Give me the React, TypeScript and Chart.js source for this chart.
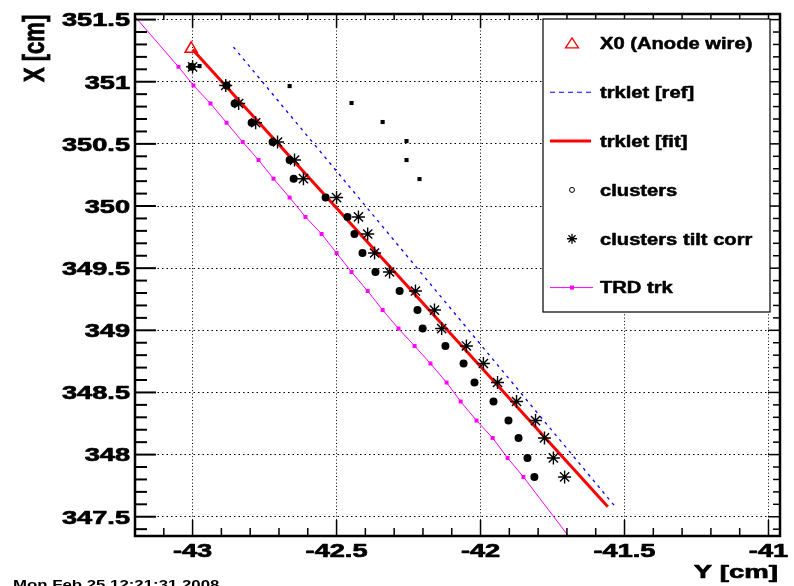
import React, { useEffect, useRef } from 'react';
import { Chart, registerables } from 'chart.js';

Chart.register(...registerables);

// Axis ticks (horizontal axis = Y [cm], vertical axis = X [cm])
const xTicks = [-43, -42.5, -42, -41.5, -41];
const xTickLabels = ['-43', '-42.5', '-42', '-41.5', '-41'];
const yTicks = [347.5, 348, 348.5, 349, 349.5, 350, 350.5, 351, 351.5];
const yTickLabels = ['347.5', '348', '348.5', '349', '349.5', '350', '350.5', '351', '351.5'];
const xRange = [-43.2, -40.96];
const yRange = [347.345, 351.545];
const minorStep = 0.1;

// Radial positions (X) of the time bins
const rowX = [351.12, 350.97, 350.825, 350.67, 350.515, 350.37, 350.22, 350.068, 349.912, 349.775,
  349.622, 349.469, 349.316, 349.163, 349.014, 348.874, 348.733, 348.58, 348.427, 348.274,
  348.134, 347.973, 347.82];

// clusters (Y)
const clusterY = [-43.003, -42.882, -42.854, -42.795, -42.722, -42.663, -42.649, -42.538, -42.462, -42.438,
  -42.41, -42.365, -42.281, -42.219, -42.201, -42.122, -42.059, -42.021, -41.955, -41.903,
  -41.868, -41.837, -41.813];

// clusters tilt corr (Y)
const tiltY = [-43.0, -42.885, -42.84, -42.781, -42.705, -42.646, -42.615, -42.5, -42.424, -42.392,
  -42.368, -42.316, -42.226, -42.16, -42.135, -42.049, -41.99, -41.941, -41.875, -41.809,
  -41.778, -41.747, -41.708];

// TRD trk markers (Y) and line extension ends
const trdY = [-43.049, -42.997, -42.938, -42.882, -42.826, -42.771, -42.719, -42.663, -42.608, -42.552,
  -42.5, -42.448, -42.392, -42.34, -42.285, -42.229, -42.174, -42.118, -42.069, -42.014,
  -41.958, -41.906, -41.851];
const trdEndY = [-43.21, -41.68];
const trdEndX = [351.55, 347.3];

// small squares (unlabelled)
const squareY = [-42.976, -42.663, -42.448, -42.34, -42.257, -42.257, -42.212];
const squareX = [351.126, 350.965, 350.829, 350.676, 350.523, 350.37, 350.217];

// X0 anode wire
const anodeY = [-43.005];
const anodeX = [351.265];

// tracklet reference and fit
const refY = [-42.858, -41.531];
const refX = [351.279, 347.578];
const fitY = [-43.0, -41.558];
const fitX = [351.26, 347.58];

const legendLabels = ['X0 (Anode wire)', 'trklet [ref]', 'trklet [fit]', 'clusters', 'clusters tilt corr', 'TRD trk'];
const dateText = 'Mon Feb 25 12:21:31 2008';

const FONT = '"Liberation Sans", Arial, Helvetica, sans-serif';

function sText(ctx: CanvasRenderingContext2D, text: string, x: number, y: number, size: number, sx: number, align: CanvasTextAlign, heavy = 0) {
  ctx.save();
  ctx.translate(x, y);
  ctx.scale(sx, 1);
  ctx.font = `bold ${size}px ${FONT}`;
  ctx.textAlign = align;
  ctx.textBaseline = 'alphabetic';
  ctx.fillStyle = '#000';
  ctx.fillText(text, 0, 0);
  if (heavy > 0) {
    ctx.strokeStyle = '#000';
    ctx.lineWidth = heavy;
    ctx.lineJoin = 'round';
    ctx.strokeText(text, 0, 0);
  }
  ctx.restore();
}

const rootPlugin = {
  id: 'rootFrame',
  afterDraw(chart: any) {
    const { ctx, chartArea: a } = chart;
    const xs = chart.scales.x;
    const ys = chart.scales.y;
    ctx.save();
    ctx.strokeStyle = '#000';
    ctx.fillStyle = '#000';

    // ticks
    const isMajor = (v: number) => Math.abs(v * 2 - Math.round(v * 2)) < 1e-6;
    ctx.lineWidth = 1.5;
    for (let k = Math.ceil(xs.min / minorStep - 1e-9); k * minorStep <= xs.max + 1e-9; k++) {
      const v = k * minorStep;
      const px = xs.getPixelForValue(v);
      const maj = isMajor(v);
      ctx.beginPath();
      ctx.moveTo(px, a.bottom); ctx.lineTo(px, a.bottom - (maj ? 16 : 8));
      ctx.moveTo(px, a.top); ctx.lineTo(px, a.top + (maj ? 14 : 6));
      ctx.stroke();
    }
    for (let k = Math.ceil(ys.min / minorStep - 1e-9); k * minorStep <= ys.max + 1e-9; k++) {
      const v = k * minorStep;
      const py = ys.getPixelForValue(v);
      const maj = isMajor(v);
      ctx.lineWidth = 2;
      ctx.beginPath();
      ctx.moveTo(a.left, py); ctx.lineTo(a.left + (maj ? 21 : 12), py);
      ctx.stroke();
      ctx.lineWidth = 1.5;
      ctx.beginPath();
      ctx.moveTo(a.right, py); ctx.lineTo(a.right - (maj ? 12 : 7), py);
      ctx.stroke();
    }

    // frame
    ctx.lineWidth = 2.5;
    ctx.strokeRect(a.left, a.top, a.right - a.left, a.bottom - a.top);

    // tick labels
    xTicks.forEach((v, i) => {
      sText(ctx, xTickLabels[i], xs.getPixelForValue(v), 557, 19, 1.43, 'center', 0.7);
    });
    yTicks.forEach((v, i) => {
      sText(ctx, yTickLabels[i], 130, ys.getPixelForValue(v) + 6.8, 19, 1.43, 'right', 0.7);
    });

    // axis titles
    sText(ctx, 'Y [cm]', 778, 578, 19, 1.45, 'right', 0.7);
    ctx.save();
    ctx.translate(44, 82);
    ctx.rotate(-Math.PI / 2);
    ctx.scale(1, 1.38);
    ctx.font = `bold 22px ${FONT}`;
    ctx.textAlign = 'left';
    ctx.textBaseline = 'alphabetic';
    ctx.fillStyle = '#000';
    ctx.fillText('X [cm]', 0, 0);
    ctx.strokeStyle = '#000';
    ctx.lineWidth = 0.6;
    ctx.strokeText('X [cm]', 0, 0);
    ctx.restore();

    // date
    sText(ctx, dateText, 13, 589, 12, 1.4, 'left');

    // legend box
    const L = 543, T = 19, R = 770, B = 312;
    ctx.fillStyle = '#fff';
    ctx.fillRect(L, T, R - L, B - T);
    ctx.strokeStyle = '#000';
    ctx.lineWidth = 1.2;
    ctx.strokeRect(L, T, R - L, B - T);
    const rowH = (B - T) / legendLabels.length;
    const sx = 572;
    legendLabels.forEach((lab, i) => {
      const cy = T + rowH * (i + 0.5);
      ctx.save();
      if (i === 0) {
        ctx.strokeStyle = '#ff0000';
        ctx.lineWidth = 1.3;
        ctx.beginPath();
        ctx.moveTo(sx, cy - 5.5); ctx.lineTo(sx + 6.5, cy + 4.5); ctx.lineTo(sx - 6.5, cy + 4.5); ctx.closePath();
        ctx.stroke();
      } else if (i === 1) {
        ctx.strokeStyle = '#0000ff';
        ctx.lineWidth = 1.2;
        ctx.setLineDash([5, 4]);
        ctx.beginPath(); ctx.moveTo(550, cy); ctx.lineTo(593, cy); ctx.stroke();
      } else if (i === 2) {
        ctx.strokeStyle = '#ff0000';
        ctx.lineWidth = 3;
        ctx.beginPath(); ctx.moveTo(550, cy); ctx.lineTo(591, cy); ctx.stroke();
      } else if (i === 3) {
        ctx.strokeStyle = '#000';
        ctx.lineWidth = 1;
        ctx.beginPath(); ctx.arc(sx, cy, 2.5, 0, Math.PI * 2); ctx.stroke();
      } else if (i === 4) {
        ctx.strokeStyle = '#000';
        ctx.lineWidth = 1.3;
        const r = 5;
        ctx.beginPath();
        ctx.moveTo(sx - r, cy); ctx.lineTo(sx + r, cy);
        ctx.moveTo(sx, cy - r); ctx.lineTo(sx, cy + r);
        const d = r * Math.SQRT1_2;
        ctx.moveTo(sx - d, cy - d); ctx.lineTo(sx + d, cy + d);
        ctx.moveTo(sx - d, cy + d); ctx.lineTo(sx + d, cy - d);
        ctx.stroke();
      } else {
        ctx.strokeStyle = '#ff00ff';
        ctx.fillStyle = '#ff00ff';
        ctx.lineWidth = 1;
        ctx.beginPath(); ctx.moveTo(550, cy); ctx.lineTo(593, cy); ctx.stroke();
        ctx.fillRect(sx - 2, cy - 2, 4, 4);
      }
      ctx.restore();
      sText(ctx, lab, 600, cy + 5.8, 16, 1.26, 'left', 0.5);
    });

    ctx.restore();
  },
};

export default function App() {
  const ref = useRef<HTMLCanvasElement | null>(null);

  useEffect(() => {
    if (!ref.current) return;
    const pts = (xs: number[], ys: number[]) => xs.map((v, i) => ({ x: v, y: ys[i] }));
    const trdPts = [
      { x: trdEndY[0], y: trdEndX[0] },
      ...pts(trdY, rowX),
      { x: trdEndY[1], y: trdEndX[1] },
    ];
    const trdRadius = trdPts.map((_, i) => (i === 0 || i === trdPts.length - 1 ? 0 : 2.8));

    const chart = new Chart(ref.current, {
      type: 'scatter',
      data: {
        datasets: [
          {
            label: 'X0 (Anode wire)',
            data: pts(anodeY, anodeX),
            pointStyle: 'triangle',
            pointRadius: 7,
            pointBorderColor: '#ff0000',
            pointBackgroundColor: 'rgba(0,0,0,0)',
            pointBorderWidth: 1.5,
            showLine: false,
            order: 0,
          },
          {
            label: 'clusters tilt corr',
            data: pts(tiltY, rowX),
            pointStyle: 'star',
            pointRadius: 6.5,
            pointBorderColor: '#000',
            pointBackgroundColor: '#000',
            pointBorderWidth: 1.4,
            showLine: false,
            order: 1,
          },
          {
            label: 'pads',
            data: pts(squareY, squareX),
            pointStyle: 'rect',
            pointRadius: 2.9,
            pointBorderColor: '#000',
            pointBackgroundColor: '#000',
            pointBorderWidth: 0,
            showLine: false,
            order: 2,
          },
          {
            label: 'clusters',
            data: pts(clusterY, rowX),
            pointStyle: 'circle',
            pointRadius: 4,
            pointBorderColor: '#000',
            pointBackgroundColor: '#000',
            pointBorderWidth: 0,
            showLine: false,
            order: 3,
          },
          {
            label: 'trklet [fit]',
            data: pts(fitY, fitX),
            showLine: true,
            borderColor: '#ff0000',
            borderWidth: 3,
            pointRadius: 0,
            order: 4,
          },
          {
            label: 'trklet [ref]',
            data: pts(refY, refX),
            showLine: true,
            borderColor: '#0000ff',
            borderWidth: 1.3,
            borderDash: [3, 4.5],
            pointRadius: 0,
            order: 5,
          },
          {
            label: 'TRD trk',
            data: trdPts,
            showLine: true,
            borderColor: '#ff00ff',
            borderWidth: 1,
            pointStyle: 'rect',
            pointRadius: trdRadius,
            pointBorderColor: '#ff00ff',
            pointBackgroundColor: '#ff00ff',
            pointBorderWidth: 0,
            order: 6,
          },
        ],
      },
      options: {
        responsive: false,
        animation: false,
        events: [],
        layout: { padding: { left: 0, top: 14, right: 14, bottom: 0 } },
        plugins: { legend: { display: false }, tooltip: { enabled: false } },
        scales: {
          x: {
            type: 'linear',
            min: xRange[0],
            max: xRange[1],
            afterBuildTicks: (s: any) => { s.ticks = xTicks.map((v) => ({ value: v })); },
            afterFit: (s: any) => { s.height = 50; },
            ticks: { display: false },
            grid: { color: '#000', lineWidth: 1, drawTicks: false },
            border: { display: false, dash: [1, 2.3] },
          },
          y: {
            type: 'linear',
            min: yRange[0],
            max: yRange[1],
            afterBuildTicks: (s: any) => { s.ticks = yTicks.map((v) => ({ value: v })); },
            afterFit: (s: any) => { s.width = 135; },
            ticks: { display: false },
            grid: { color: '#000', lineWidth: 1, drawTicks: false },
            border: { display: false, dash: [1.5, 3] },
          },
        },
      },
      plugins: [rootPlugin],
    } as any);
    return () => chart.destroy();
  }, []);

  return (
    <div style={{ position: 'absolute', left: 0, top: 0, width: 794, height: 586, background: '#fff' }}>
      <canvas ref={ref} width={794} height={586} style={{ display: 'block', width: 794, height: 586 }} />
    </div>
  );
}
